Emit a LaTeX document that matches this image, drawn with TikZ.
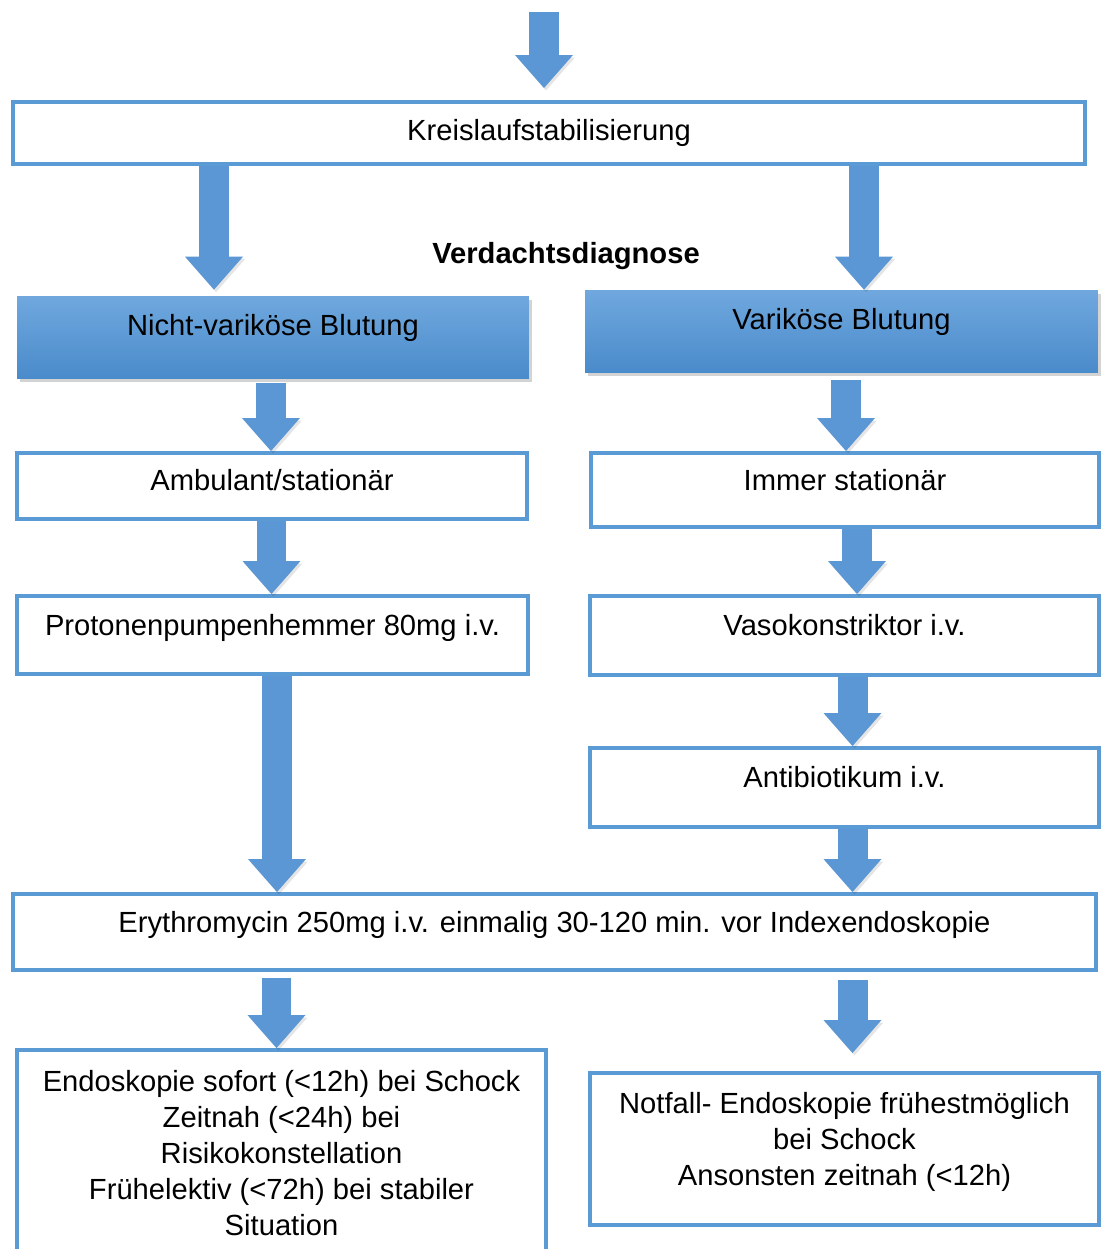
\documentclass[tikz,border=0pt]{standalone}
\usepackage{fontspec}
\setmainfont{Liberation Sans}
\usetikzlibrary{positioning,arrows.meta,shadows,calc}
\definecolor{fboxline}{HTML}{5B9BD5}
\definecolor{farrow}{HTML}{5A97D4}
\definecolor{fheadtop}{HTML}{70A8DE}
\definecolor{fheadbot}{HTML}{4A8BCB}
\tikzset{fbox/.style={rectangle, draw=fboxline, line width=0.08cm, fill=white, align=center, inner sep=2pt, text depth=0.42cm}}
\tikzset{fhead/.style={rectangle, top color=fheadtop, bottom color=fheadbot, draw=none, inner sep=2pt, text depth=0.5cm, drop shadow={opacity=0.35, shadow xshift=0.06cm, shadow yshift=-0.08cm}}}
\tikzset{farr/.style={draw=farrow, line width=0.6cm, -{Triangle[width=1.16cm, length=0.66cm, line width=0pt]}, preaction={draw=black, opacity=0.1, transform canvas={shift={(0.04cm,-0.05cm)}}}}}
\tikzset{ftitle/.style={font=\fontsize{16.6}{20.5}\selectfont\bfseries}}

\begin{document}
\begin{tikzpicture}[x=0.02cm, y=-0.02cm, font=\fontsize{16.6}{20.5}\selectfont]
  \useasboundingbox (0,0) rectangle (1101,1249);

  \node[fbox, minimum width=21.44cm, minimum height=1.24cm, text depth=0.12cm] (kreis) at (549,133) {Kreislaufstabilisierung};
  \node[ftitle] (vd) at (566,256) {Verdachtsdiagnose};

  \node[fhead, minimum width=10.24cm, minimum height=1.64cm] (nvb) at (273,337) {Nicht-variköse Blutung};
  \node[fhead, minimum width=10.26cm, minimum height=1.64cm] (vb) at (841.5,331) {Variköse Blutung};

  \node[fbox, minimum width=10.2cm, minimum height=1.32cm, text depth=0.26cm] (amb) at (272,486) {Ambulant/stationär};
  \node[fbox, minimum width=10.16cm, minimum height=1.48cm] (imm) at (845,490) {Immer stationär};
  \node[fbox, minimum width=10.22cm, minimum height=1.56cm] (ppi) at (272.5,635) {Protonenpumpenhemmer 80mg i.v.};
  \node[fbox, minimum width=10.18cm, minimum height=1.58cm] (vaso) at (844.5,635.5) {Vasokonstriktor i.v.};
  \node[fbox, minimum width=10.18cm, minimum height=1.58cm] (anti) at (844.5,787.5) {Antibiotikum i.v.};
  \node[fbox, minimum width=21.66cm, minimum height=1.52cm] (ery) at (554.5,932) {Erythromycin 250mg i.v. einmalig 30-120 min. vor Indexendoskopie};

  \node[fbox, minimum width=10.58cm, minimum height=4.36cm, text depth=0.26cm] (endo) at (281.5,1159) {Endoskopie sofort (<12h) bei Schock\\Zeitnah (<24h) bei\\Risikokonstellation\\Frühelektiv (<72h) bei stabiler\\Situation};
  \node[fbox, minimum width=10.18cm, minimum height=3.04cm] (notf) at (844.5,1149) {Notfall- Endoskopie frühestmöglich\\bei Schock\\Ansonsten zeitnah (<12h)};

  \coordinate (entry) at (544,12);
  \draw[farr, shorten >=0.24cm] (entry) -- (entry |- kreis.north);
  \draw[farr, shorten >=0.12cm] (214,0 |- kreis.south) -- (214,0 |- nvb.north);
  \draw[farr] (864,0 |- kreis.south) -- (864,0 |- vb.north);
  \draw[farr, shorten <=0.1cm] (271,0 |- nvb.south) -- (271,0 |- amb.north);
  \draw[farr, shorten <=0.16cm] (846,0 |- vb.south) -- (846,0 |- imm.north);
  \draw[farr] (271.5,0 |- amb.south) -- (271.5,0 |- ppi.north);
  \draw[farr] (857,0 |- imm.south) -- (857,0 |- vaso.north);
  \draw[farr] (277,0 |- ppi.south) -- (277,0 |- ery.north);
  \draw[farr] (852.5,0 |- vaso.south) -- (852.5,0 |- anti.north);
  \draw[farr] (852.5,0 |- anti.south) -- (852.5,0 |- ery.north);
  \draw[farr, shorten <=0.12cm] (276.5,0 |- ery.south) -- (276.5,0 |- endo.north);
  \draw[farr, shorten <=0.16cm, shorten >=0.36cm] (852.5,0 |- ery.south) -- (852.5,0 |- notf.north);
\end{tikzpicture}
\end{document}
